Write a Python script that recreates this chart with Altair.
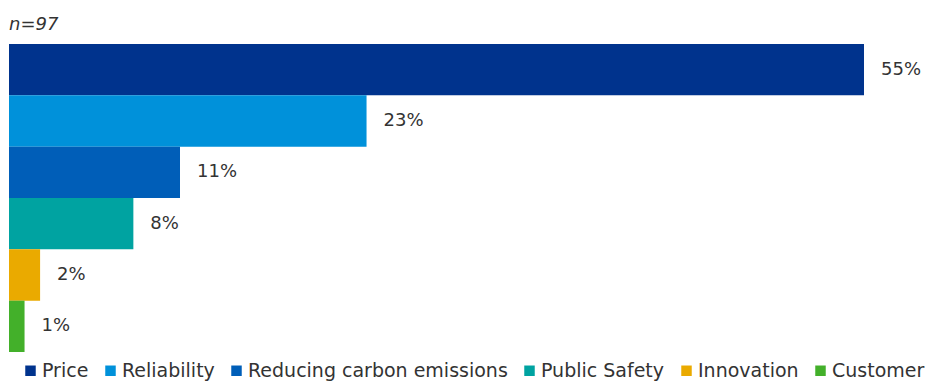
import altair as alt
import pandas as pd

categories = ["Price", "Reliability", "Reducing carbon emissions", "Public Safety", "Innovation", "Customer"]
values = [55, 23, 11, 8, 2, 1]
colors = ["#00338D", "#0091DA", "#005EB8", "#00A3A1", "#EAAA00", "#43B02A"]

df = pd.DataFrame({"category": categories, "value": values})
df["label"] = df["value"].astype(str) + "%"

FONT = "DejaVu Sans"

base = alt.Chart(df).encode(
    y=alt.Y("category:N", sort=categories, axis=None,
            scale=alt.Scale(paddingInner=0, paddingOuter=0)),
    x=alt.X("value:Q", axis=None, scale=alt.Scale(domain=[0, 55], nice=False, zero=True)),
)

bars = base.mark_bar().encode(
    color=alt.Color("category:N", sort=categories,
                    scale=alt.Scale(domain=categories, range=colors),
                    legend=alt.Legend(title=None, orient="none", direction="horizontal",
                                      legendX=12, legendY=317, padding=0,
                                      symbolType="square", symbolSize=110, symbolStrokeWidth=0,
                                      symbolOpacity=1,
                                      labelFont=FONT, labelFontSize=19, labelColor="#333333",
                                      labelOffset=2, columnPadding=12, labelLimit=400))
)

text = base.mark_text(align="left", baseline="middle", dx=17, font=FONT,
                      fontSize=18, color="#333333").encode(text="label:N")

chart = (bars + text).properties(
    width=855, height=308,
    title=alt.TitleParams("n=97", anchor="start", fontStyle="italic", fontWeight="normal",
                          font=FONT, fontSize=18, color="#333333", baseline="alphabetic",
                          offset=-4),
    autosize=alt.AutoSizeParams(type="none"),
    padding={"left": 9, "top": 44, "right": 61, "bottom": 29},
).configure_view(stroke=None)

chart.save("out.html", embed_options={"renderer": "svg", "actions": False})
